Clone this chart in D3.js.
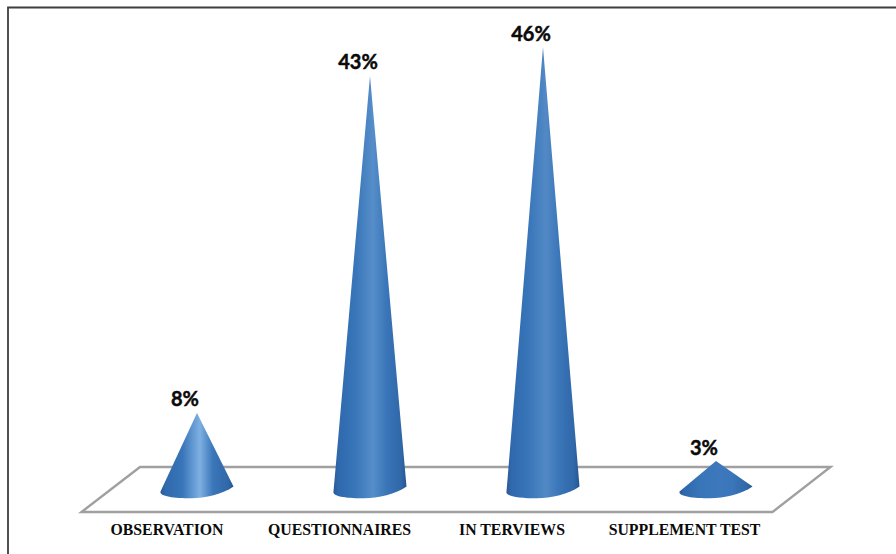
<!DOCTYPE html>
<html>
<head>
<meta charset="utf-8">
<script src="https://cdn.jsdelivr.net/npm/d3@7"></script>
<style>
  html, body { margin: 0; padding: 0; background: #fff; }
  svg { display: block; }
  .axis text { font-family: "Liberation Serif", serif; font-weight: 700; font-size: 15.8px; fill: #0a0a0a; }
  .value { font-family: Lato, sans-serif; font-weight: 700; font-size: 20px; fill: #0a0a0a; stroke: #0a0a0a; stroke-width: 0.45px; text-anchor: middle; }
</style>
</head>
<body>
<div id="chart"></div>
<script>
const categories = ["OBSERVATION", "QUESTIONNAIRES", "IN TERVIEWS", "SUPPLEMENT TEST"];
const percentages = [8, 43, 46, 3];
const highlights = ["#7eb0e2", "#568ec9", "#5289c5", "#3d78bc"];

const width = 896, height = 554;
const svg = d3.select("#chart").append("svg").attr("width", width).attr("height", height);

// Frame running off the right and bottom of the page
svg.append("path")
  .attr("d", `M8,${height}V7.5H${width}`)
  .attr("fill", "none").attr("stroke", "#3f3f3f").attr("stroke-width", 1.8);

const x = d3.scalePoint().domain(categories).range([197, 716]);
const y = d3.scaleLinear().domain([0, 46]).range([490, 47]);
const labelX = d3.scalePoint().domain(categories).range([166.5, 684]);

// Floor plane beneath the cones
svg.append("path")
  .attr("d", "M140,467H830.5L772.5,512H81.5Z")
  .attr("fill", "#fff").attr("stroke", "#a0a0a0").attr("stroke-width", 2.4)
  .attr("stroke-linejoin", "miter");

// One horizontal shading per cone
const defs = svg.append("defs");
categories.forEach((c, i) => {
  const g = defs.append("linearGradient").attr("id", `shade${i}`)
    .attr("x1", 0).attr("x2", 1).attr("y1", 0).attr("y2", 0);
  [[0, "#2a5a97"], [0.07, "#3069ad"], [0.3, "#3875b9"], [0.54, highlights[i]],
   [0.72, "#3a76b9"], [0.93, "#3067a8"], [1, "#26548f"]]
    .forEach(([o, col]) => g.append("stop").attr("offset", o).attr("stop-color", col));
});

const halfBase = 36.5;
function conePath(cat, value) {
  const cx = x(cat), p = d3.path();
  p.moveTo(cx, y(value));
  p.lineTo(cx + halfBase, 486.5);
  p.bezierCurveTo(cx + 26, 494, cx + 8, 498.3, cx - 6, 498.3);
  p.bezierCurveTo(cx - 22, 498.3, cx - 38, 496.5, cx - halfBase, 491.5);
  p.closePath();
  return p.toString();
}

svg.selectAll("path.cone").data(categories).join("path")
  .attr("class", "cone")
  .attr("d", (c, i) => conePath(c, percentages[i]))
  .attr("fill", (c, i) => `url(#shade${i})`);

svg.selectAll("text.value").data(categories).join("text")
  .attr("class", "value")
  .attr("x", c => x(c) - 12)
  .attr("y", (c, i) => y(percentages[i]) - 6.5)
  .text((c, i) => percentages[i] + "%");

const axis = svg.append("g").attr("class", "axis")
  .attr("transform", "translate(0,535)")
  .call(d3.axisBottom(labelX).tickSize(0).tickPadding(0));
axis.select(".domain").remove();
axis.selectAll("text").attr("dy", 0).attr("y", 0);
</script>
</body>
</html>
